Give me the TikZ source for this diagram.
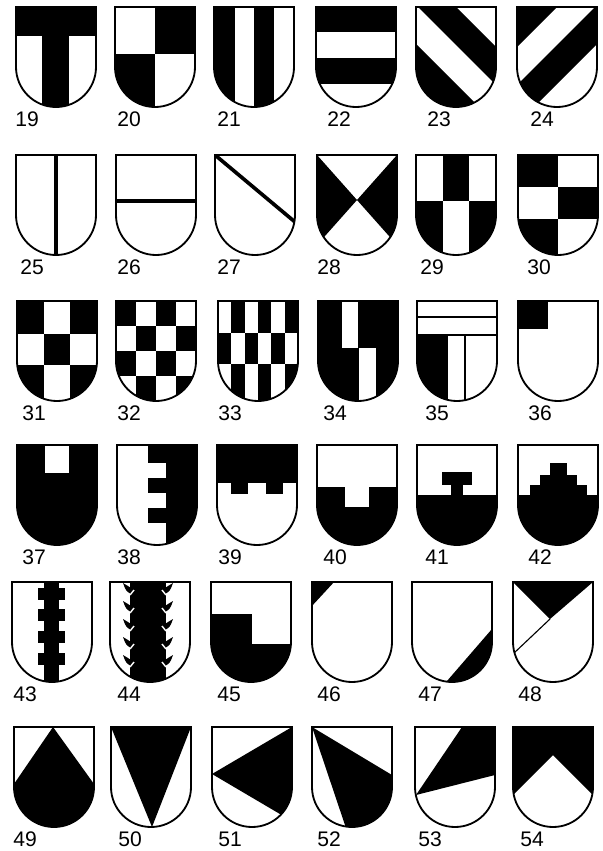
\documentclass[tikz,border=0pt]{standalone}
\usepackage{fontspec}
\setmainfont{Liberation Sans}
% outline of one shield, local units, y down
\newcommand\shieldpath{(0,0) -- (80,0) -- (80,60) arc[start angle=0, end angle=180, radius=40] -- cycle}
% #1 left, #2 top, #3 number, #4 x of number, #5 black parts
\newcommand\heraldshield[5]{%
  \begin{scope}[shift={(#1,#2)}]
    \begin{scope}
      \clip \shieldpath;
      #5
    \end{scope}
    \draw[rim] \shieldpath;
  \end{scope}
  \node[num] (n#3) at (#4,#2+112) {#3};
}
\begin{document}
\begin{tikzpicture}[x=0.25mm, y=-0.25mm,
    rim/.style={line width=1.3pt},
    bar/.style={line width=2.6pt},
    hair/.style={line width=0.8pt},
    num/.style={font=\fontsize{15}{18}\selectfont, inner sep=0pt, anchor=west}]
  \useasboundingbox (0,0) rectangle (602,851);
  % row 1
  \heraldshield{16}{7}{19}{15}{\fill (0,0) rectangle (80,29); \fill (26,0) rectangle (53,105);}
  \heraldshield{115}{7}{20}{117}{\fill (40,0) rectangle (85,47); \fill (-5,47) rectangle (40,105);}
  \heraldshield{214}{7}{21}{217}{\fill (-5,0) rectangle (21,105); \fill (40,0) rectangle (60,105);}
  \heraldshield{316}{7}{22}{327}{\fill (0,0) rectangle (80,25); \fill (0,51) rectangle (80,77);}
  \heraldshield{416}{7}{23}{427}{\fill (2,0) -- (40,0) -- (140,100) -- (102,100) -- cycle;
    \fill (-10,27) -- (70,107) -- (-10,107) -- cycle;}
  \heraldshield{517}{7}{24}{530}{\fill (-1,-1) -- (41,-1) -- (-1,41) -- cycle;
    \fill (78,0) -- (117,0) -- (17,100) -- (-22,100) -- cycle;}
  % row 2
  \heraldshield{16}{155}{25}{20}{\draw[bar] (40,0) -- (40,100);}
  \heraldshield{116}{155}{26}{117}{\draw[bar] (0,46) -- (80,46);}
  \heraldshield{215}{155}{27}{217}{\draw[bar] (0,0) -- (80,67);}
  \heraldshield{317}{155}{28}{317}{\fill (0,0) -- (40,45) -- (0,90) -- cycle;
    \fill (80,0) -- (40,45) -- (80,90) -- cycle;}
  \heraldshield{416}{155}{29}{420}{\fill (27,0) rectangle (53,46);
    \fill (-5,46) rectangle (27,105); \fill (53,46) rectangle (85,105);}
  \heraldshield{518}{155}{30}{527}{\fill (0,0) rectangle (40,32);
    \fill (40,32) rectangle (80,64); \fill (-5,64) rectangle (40,105);}
  % row 3
  \heraldshield{17}{301}{31}{22}{\fill (0,0) rectangle (27,33); \fill (53,0) rectangle (80,33);
    \fill (27,33) rectangle (53,64); \fill (-5,64) rectangle (27,105); \fill (53,64) rectangle (85,105);}
  \heraldshield{116}{301}{32}{117}{\foreach \c/\r in {0/0,2/0,1/1,3/1,0/2,2/2,1/3,3/3}
      \fill (\c*20,\r*25) rectangle ++(20,25);}
  \heraldshield{218}{301}{33}{218}{\foreach \c in {1,3,5} \fill ({\c*40/3},0) rectangle ++(40/3,32);
    \foreach \c in {0,2,4} \fill ({\c*40/3},32) rectangle ++(40/3,31);
    \foreach \c in {1,3,5} \fill ({\c*40/3},63) rectangle ++(40/3,42);}
  \heraldshield{318}{301}{34}{323}{\fill (-5,-5) rectangle (85,105);
    \fill[white] (24,0) rectangle (40,47); \fill[white] (41,47) rectangle (58,105);}
  \heraldshield{417}{301}{35}{425}{\fill (-5,34) rectangle (31,105);
    \draw[hair] (0,16) -- (80,16) (0,34) -- (80,34) (48,34) -- (48,100);}
  \heraldshield{518}{301}{36}{528}{\fill (0,0) rectangle (30,28);}
  % row 4
  \heraldshield{17}{445}{37}{22}{\fill (-5,-5) rectangle (85,105); \fill[white] (28,0) rectangle (52,28);}
  \heraldshield{117}{445}{38}{117}{\fill (49,0) rectangle (85,105); \fill (31,0) rectangle (49,18);
    \fill (31,33) rectangle (49,48); \fill (31,63) rectangle (49,78);}
  \heraldshield{217}{445}{39}{218}{\fill (0,0) rectangle (80,38);
    \fill (14,37) rectangle (31,49); \fill (49,37) rectangle (66,49);}
  \heraldshield{317}{445}{40}{323}{\fill (-5,42) rectangle (85,105); \fill[white] (28,41) rectangle (52,62);}
  \heraldshield{417}{445}{41}{425}{\fill (-5,50) rectangle (85,105);
    \fill (34,39) rectangle (46,51); \fill (25,27) rectangle (55,40);}
  \heraldshield{518}{445}{42}{528}{\fill (32,18) rectangle (49,51); \fill (22,30) rectangle (59,51);
    \fill (12,40) rectangle (69,51); \fill (-5,50) rectangle (85,105);}
  % row 5
  \heraldshield{12}{582}{43}{13}{\fill (32,0) rectangle (47,105);
    \foreach \t in {6,27,49,71} \fill (26,\t) rectangle (53,\t+12);}
  \heraldshield{110}{582}{44}{117}{\fill (20,0) rectangle (56,105);
    \foreach \t in {12,30,48,66,84} {
      \fill (21,\t) .. controls (16,\t-3) .. (13,\t-11) .. controls (18,\t-8) .. (21,\t-6) -- cycle;
      \fill (55,\t) .. controls (60,\t-3) .. (63,\t-11) .. controls (58,\t-8) .. (55,\t-6) -- cycle;
      \draw[white, line width=1pt] (20,\t+1) -- (24,\t-4);
      \draw[white, line width=1pt] (56,\t+1) -- (52,\t-4);}}
  \heraldshield{211}{582}{45}{217}{\fill (-5,32) rectangle (41,105); \fill (41,62) rectangle (85,105);}
  \heraldshield{312}{582}{46}{317}{\fill (-1,-1) -- (23,-1) -- (-1,25) -- cycle;}
  \heraldshield{412}{582}{47}{418}{\fill (90,35.4) -- (29.8,105) -- (90,105) -- cycle;}
  \heraldshield{513}{582}{48}{518}{\fill (0,0) -- (80,0) -- (37,37) -- cycle; \draw[hair] (37,37) -- (0,72);}
  % row 6
  \heraldshield{14}{727}{49}{13}{\fill (39,0) -- (0,57) -- (-5,105) -- (85,105) -- (80,57) -- cycle;}
  \heraldshield{111}{727}{50}{118}{\fill (0,0) -- (80,0) -- (41,100) -- cycle;}
  \heraldshield{212}{727}{51}{218}{\fill (0,47) -- (80,0) -- (90,0) -- (90,100) -- cycle;}
  \heraldshield{312}{727}{52}{317}{\fill (0,0) -- (80,48) -- (90,48) -- (90,110) -- (37,110) -- cycle;}
  \heraldshield{415}{727}{53}{418}{\fill (1,68) -- (47,0) -- (85,-5) -- (85,48) -- (80,48) -- cycle;}
  \heraldshield{513}{727}{54}{520}{\fill (-5,-5) -- (85,-5) -- (85,73) -- (40,28) -- (-5,73) -- cycle;}
\end{tikzpicture}
\end{document}
